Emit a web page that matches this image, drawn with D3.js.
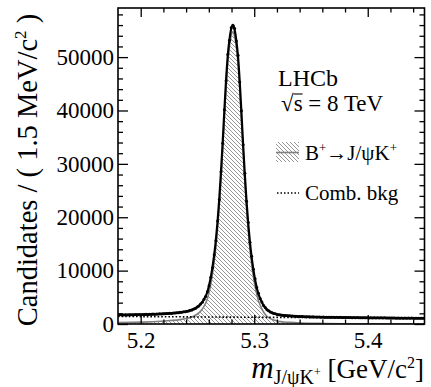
<!DOCTYPE html>
<html><head><meta charset="utf-8">
<script src="https://cdn.jsdelivr.net/npm/d3@7"></script>
<style>
body{margin:0;background:#fff}
svg{display:block}
text{font-family:"Liberation Serif","Times New Roman",serif;fill:#000}
</style>
</head><body><svg id="c" width="431" height="387"></svg>
<script>
// ---------------- data ----------------
const binLow = 5.18, binWidth = 0.0015;   // 180 bins of 1.5 MeV
const binCounts = [
1701,1712,1688,1705,1731,1694,1742,1718,1755,1728,1761,1739,1782,1748,1790,1771,1808,1789,1833,1806,1851,
1830,1874,1858,1899,1885,1934,1911,1962,1944,2003,1982,2051,2040,2117,2109,2188,2193,2281,2302,2405,
2431,2578,2628,2829,2921,3178,3372,3731,4068,4641,5168,6043,7156,8752,10548,12961,15642,19287,23318,28512,
33874,40150,45560,50480,53150,55480,55900,55370,53040,50350,45320,39950,33560,28230,22980,19020,15310,12690,10240,8460,
6860,5740,4770,4130,3478,3071,2684,2468,2231,2117,1962,1897,1784,1752,1676,1662,1598,1601,1547,1539,
1488,1491,1449,1452,1413,1420,1391,1396,1366,1379,1343,1358,1327,1341,1306,1321,1289,1307,1279,1295,
1268,1286,1259,1277,1248,1268,1238,1257,1229,1249,1218,1240,1207,1231,1198,1219,1188,1209,1180,1201,
1171,1193,1163,1186,1155,1178,1147,1172,1141,1166,1135,1160,1128,1153,1122,1149,1116,1142,1109,1137,
1104,1131,1097,1126,1092,1120,1086,1115,1081,1109,1076,1104,1071,1099,1066,1094,1062,1089,1057
];
const fitMass = [5.1800,5.2012,5.2212,5.2312,5.2412,5.2462,5.2512,5.2542,5.2572,5.2587,5.2602,5.2617,5.2632,5.2647,5.2662,5.2677,5.2692,5.2707,5.2722,5.2737,5.2752,5.2767,5.2782,5.2797,5.2812,5.2827,5.2842,5.2857,5.2872,5.2887,5.2902,5.2917,5.2932,5.2947,5.2962,5.2977,5.2992,5.3007,5.3022,5.3037,5.3052,5.3082,5.3112,5.3142,5.3172,5.3212,5.3262,5.3312,5.3412,5.3612,5.3812,5.4112,5.4500];
const fitSignal = [290,350,565,733,1060,1420,2075,2780,3880,4680,5885,7390,9290,11590,14390,17900,22100,27100,32700,38700,44400,49000,52000,54000,54750,53900,51900,48900,44200,38500,32400,26800,21800,17600,14100,11300,9000,7100,5600,4400,3550,2250,1450,1000,740,525,380,300,190,105,55,15,0];
const combMass = [5.18,5.20,5.22,5.24,5.26,5.28,5.30,5.32,5.34,5.36,5.38,5.40,5.42,5.45];
const combFit  = [1420,1390,1365,1340,1310,1285,1260,1235,1210,1185,1160,1140,1115,1080];
const xMajorTicks = [5.2,5.3,5.4];
const xTickLabels = ["5.2","5.3","5.4"];
const yMajorTicks = [0,10000,20000,30000,40000,50000];
const yTickLabels = ["0","10000","20000","30000","40000","50000"];

// ---------------- layout ----------------
const svg = d3.select("#c");
const L=118, R=424.5, T=8, B=324;
const x = d3.scaleLinear().domain([5.18,5.45]).range([L,R]);
const y = d3.scaleLinear().domain([0,59200]).range([B,T]);

const defs = svg.append("defs");
const pat = defs.append("pattern").attr("id","hatch").attr("patternUnits","userSpaceOnUse")
  .attr("width",4).attr("height",4);
pat.append("path").attr("d","M-1,-1 L5,5 M-1,3 L1,5 M3,-1 L5,1")
  .attr("stroke","#8a8a8a").attr("stroke-width",0.9);
defs.append("clipPath").attr("id","clip").append("rect")
  .attr("x",L).attr("y",T).attr("width",R-L).attr("height",B-T);

const g = svg.append("g").attr("clip-path","url(#clip)");

// signal component
const sig = fitMass.map((m,i)=>({m, v:fitSignal[i]}));
g.append("path").datum(sig)
  .attr("d", d3.area().x(d=>x(d.m)).y0(y(0)).y1(d=>y(d.v)).curve(d3.curveMonotoneX))
  .attr("fill","url(#hatch)");
g.append("path").datum(sig)
  .attr("d", d3.line().x(d=>x(d.m)).y(d=>y(d.v)).curve(d3.curveMonotoneX))
  .attr("fill","none").attr("stroke","#808080").attr("stroke-width",1.6);

// combinatorial background
const comb = combMass.map((m,i)=>({m, v:combFit[i]}));
const combAt = d3.scaleLinear().domain(combMass).range(combFit);
g.append("path").datum(comb)
  .attr("d", d3.line().x(d=>x(d.m)).y(d=>y(d.v)).curve(d3.curveMonotoneX))
  .attr("fill","none").attr("stroke","#000").attr("stroke-width",1.6)
  .attr("stroke-dasharray","1.6,2");

// data points
const pts = binCounts.map((n,i)=>({m: binLow+(i+0.5)*binWidth, n}));
g.selectAll("line.err").data(pts).join("line").attr("class","err")
  .attr("x1",d=>x(d.m)).attr("x2",d=>x(d.m))
  .attr("y1",d=>y(d.n+Math.sqrt(d.n))).attr("y2",d=>y(d.n-Math.sqrt(d.n)))
  .attr("stroke","#000").attr("stroke-width",1);
g.selectAll("circle.pt").data(pts).join("circle").attr("class","pt")
  .attr("cx",d=>x(d.m)).attr("cy",d=>y(d.n)).attr("r",1.5).attr("fill","#000");

// total fit
const tot = fitMass.map((m,i)=>({m, v:fitSignal[i]+combAt(m)}));
g.append("path").datum(tot)
  .attr("d", d3.line().x(d=>x(d.m)).y(d=>y(d.v)).curve(d3.curveMonotoneX))
  .attr("fill","none").attr("stroke","#000").attr("stroke-width",2.2);

// ---------------- axes ----------------
const xMinor = d3.range(5.22,5.445,0.02).filter(v=>xMajorTicks.every(t=>Math.abs(t-v)>1e-6));
const yMinor = d3.range(2000,59000,2000).filter(v=>v%10000!==0);
function style(sel){ sel.select(".domain").remove(); sel.selectAll("line").attr("stroke","#000").attr("stroke-width",1.3); }

svg.append("g").attr("transform",`translate(0,${B})`)
  .call(d3.axisBottom(x).tickValues(xMajorTicks).tickSize(-9).tickPadding(8)
        .tickFormat((d,i)=>xTickLabels[i]))
  .call(style).call(s=>s.selectAll("text").attr("font-size",23).attr("font-family","Liberation Serif"));
svg.append("g").attr("transform",`translate(0,${B})`)
  .call(d3.axisBottom(x).tickValues(xMinor).tickSize(-4.5).tickFormat("")).call(style);
svg.append("g").attr("transform",`translate(0,${T})`)
  .call(d3.axisTop(x).tickValues(xMajorTicks).tickSize(-9).tickFormat("")).call(style);
svg.append("g").attr("transform",`translate(0,${T})`)
  .call(d3.axisTop(x).tickValues(xMinor).tickSize(-4.5).tickFormat("")).call(style);

svg.append("g").attr("transform",`translate(${L},0)`)
  .call(d3.axisLeft(y).tickValues(yMajorTicks).tickSize(-10).tickPadding(4)
        .tickFormat((d,i)=>yTickLabels[i]))
  .call(style).call(s=>s.selectAll("text").attr("font-size",23).attr("font-family","Liberation Serif"));
svg.append("g").attr("transform",`translate(${L},0)`)
  .call(d3.axisLeft(y).tickValues(yMinor).tickSize(-5).tickFormat("")).call(style);
svg.append("g").attr("transform",`translate(${R},0)`)
  .call(d3.axisRight(y).tickValues(yMajorTicks).tickSize(-10).tickFormat("")).call(style);
svg.append("g").attr("transform",`translate(${R},0)`)
  .call(d3.axisRight(y).tickValues(yMinor).tickSize(-5).tickFormat("")).call(style);

svg.append("rect").attr("x",L).attr("y",T).attr("width",R-L).attr("height",B-T)
  .attr("fill","none").attr("stroke","#000").attr("stroke-width",1.6);

// ---------------- titles ----------------
const xt = svg.append("text").attr("x",424).attr("y",378).attr("text-anchor","end");
xt.append("tspan").attr("font-style","italic").attr("font-size",31).text("m");
xt.append("tspan").attr("font-size",20).attr("dy",6).text("J/ψK");
xt.append("tspan").attr("font-size",12).attr("dy",-8).text("+");
xt.append("tspan").attr("font-size",27).attr("dy",2).text(" [GeV/c");
xt.append("tspan").attr("font-size",16).attr("dy",-10).text("2");
xt.append("tspan").attr("font-size",27).attr("dy",10).text("]");

const yt = svg.append("text").attr("transform","translate(37,170) rotate(-90)").attr("text-anchor","middle");
yt.append("tspan").attr("font-size",28.5).text("Candidates / ( 1.5 MeV/c");
yt.append("tspan").attr("font-size",17).attr("dy",-11).text("2");
yt.append("tspan").attr("font-size",28.5).attr("dy",11).text(" )");

// ---------------- labels / legend ----------------
svg.append("text").attr("x",278).attr("y",86).attr("font-size",24).text("LHCb");
const rs = svg.append("text").attr("x",281).attr("y",111).attr("font-size",23);
rs.append("tspan").text("√");
rs.append("tspan").attr("class","s").text("s");
rs.append("tspan").text(" = 8 TeV");
{ const t = rs.node();
  const a = t.getStartPositionOfChar(1), b = t.getEndPositionOfChar(1);
  svg.append("line").attr("x1",a.x).attr("x2",b.x).attr("y1",94).attr("y2",94).attr("stroke","#000").attr("stroke-width",1.1); }

svg.append("rect").attr("x",276).attr("y",142).attr("width",23).attr("height",20).attr("fill","url(#hatch)");
svg.append("line").attr("x1",276).attr("x2",299).attr("y1",152.5).attr("y2",152.5).attr("stroke","#808080").attr("stroke-width",1.6);
const l1 = svg.append("text").attr("x",305).attr("y",160).attr("font-size",21);
l1.append("tspan").text("B");
l1.append("tspan").attr("font-size",13).attr("dy",-8).text("+");
l1.append("tspan").attr("dy",8).text("→J/ψK");
l1.append("tspan").attr("font-size",13).attr("dy",-8).text("+");

svg.append("line").attr("x1",277).attr("x2",299).attr("y1",193).attr("y2",193).attr("stroke","#000").attr("stroke-width",1.5).attr("stroke-dasharray","1.5,2");
svg.append("text").attr("x",305).attr("y",200).attr("font-size",21).text("Comb. bkg");
</script></body></html>
